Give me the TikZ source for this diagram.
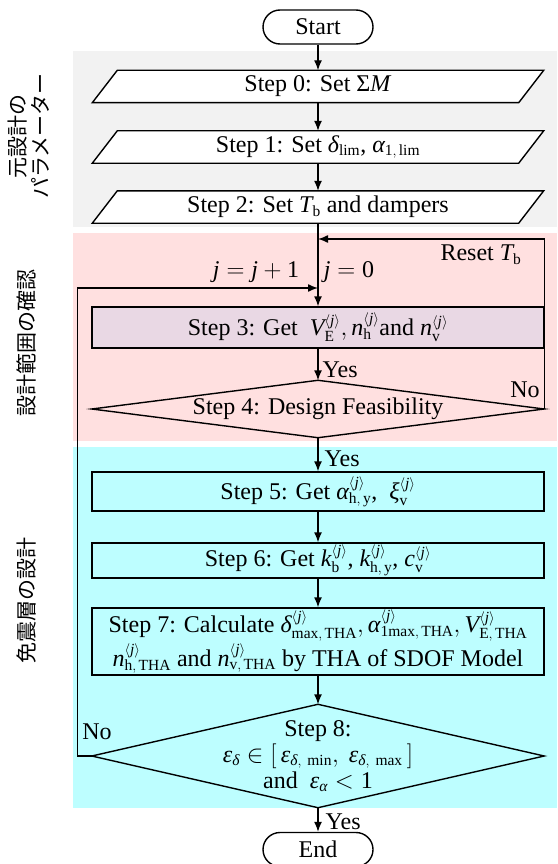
\documentclass[tikz,border=0pt]{standalone}
\usepackage{amstext}
\usepackage{fontspec}
\setmainfont{Liberation Serif}
\newfontfamily\tnr{Liberation Serif}
\newfontfamily\jpfont{Noto Sans CJK JP}
\usetikzlibrary{arrows.meta,shapes.misc,calc}
\DeclareMathSizes{24}{24}{15.5}{12}
\definecolor{bggray}{HTML}{F2F2F2}
\definecolor{bgpink}{HTML}{FFE0E0}
\definecolor{bgcyan}{HTML}{BDFEFF}
\definecolor{stepthree}{HTML}{E9D8E4}
\newcommand{\iv}[1]{\textit{#1}}
\newcommand{\jj}{^{\langle\textit{j}\rangle}}
\begin{document}
\begin{tikzpicture}[x=1pt,y=-1pt,
  font=\tnr\fontsize{24}{28}\selectfont,
  line width=1.4pt,
  >={Latex[length=10pt,width=8pt]},
  term/.style={rounded rectangle, draw, minimum width=110pt, minimum height=34pt, inner sep=0pt},
  parabox/.style={minimum width=425pt, minimum height=31pt, inner sep=0pt},
  stepbox/.style={draw, minimum width=452pt, inner sep=0pt, align=center},
  decbox/.style={minimum width=451pt, inner sep=0pt, align=center},
  lbl/.style={inner sep=0pt},
  jplbl/.style={rotate=90, inner sep=0pt, align=center, font=\jpfont\fontsize{21}{23}\selectfont}]
\useasboundingbox (0,0) rectangle (557,864);
% background bands
\fill[bggray] (73,51) rectangle (557,227);
\fill[bgpink] (73,233) rectangle (557,441);
\fill[bgcyan] (73,447) rectangle (557,808);
% side labels
\node[jplbl] (g1) at (28.5,136) {元設計の\\パラメーター};
\node[jplbl] (g2) at (26,343) {設計範囲の確認};
\node[jplbl] (g3) at (26,600) {免震層の設計};
% nodes
\node[term] (start) at (318,27) {Start};
\node[parabox] (s0) at (318,86.5) {};
\node[parabox] (s1) at (318,147) {};
\node[parabox] (s2) at (318,207) {};
\foreach \n in {s0,s1,s2}{
  \draw[fill=white] ([xshift=-12.5pt]\n.south west) -- ([xshift=-12.5pt]\n.south east)
     -- ([xshift=12.5pt]\n.north east) -- ([xshift=12.5pt]\n.north west) -- cycle;
}
\node[parabox] (t0) at (s0) {Step 0: Set Σ\textit{M}};
\node[parabox] (t1) at (s1) {Step 1: Set $\iv{δ}_{\mathrm{lim}}$, $\iv{α}_{\mathrm{1,\,lim}}$};
\node[parabox] (t2) at (s2) {Step 2: Set $\iv{T}_{\mathrm{b}}$ and dampers};
\node[stepbox, fill=stepthree, minimum height=41pt] (s3) at (318,327.5)
  {Step 3: Get \ $\iv{V}\jj_{\mathrm{E}}, \iv{n}\jj_{\mathrm{h}}$and $\iv{n}\jj_{\mathrm{v}}$};
\node[decbox, minimum height=56pt] (s4) at (318,409) {Step 4: Design Feasibility};
\draw (s4.west) -- (s4.north) -- (s4.east) -- (s4.south) -- cycle;
\node[stepbox, minimum height=39pt] (s5) at (318,491.5)
  {Step 5: Get $\iv{α}\jj_{\mathrm{h,\,y}}$, \ $\iv{ξ}\jj_{\mathrm{v}}$};
\node[stepbox, minimum height=35pt] (s6) at (318,560.5)
  {Step 6: Get $\iv{k}\jj_{\mathrm{b}}$, $\iv{k}\jj_{\mathrm{h,\,y}}$, $\iv{c}\jj_{\mathrm{v}}$};
\node[stepbox, minimum height=67pt] (s7) at (318,641.5)
  {Step 7: Calculate $\iv{δ}\jj_{\mathrm{max,\,THA}}, \iv{α}\jj_{\mathrm{1max,\,THA}}, \iv{V}\jj_{\mathrm{E,\,THA}}$\\[1pt]
   $\iv{n}\jj_{\mathrm{h,\,THA}}$ and $\iv{n}\jj_{\mathrm{v,\,THA}}$ by THA of SDOF Model};
\node[decbox, minimum height=102pt] (s8) at (318,756)
  {Step 8:\\[-2pt] $\iv{ε}_{\iv{δ}}\in\big[\,\iv{ε}_{\iv{δ},\ \mathrm{min}},\ \iv{ε}_{\iv{δ},\ \mathrm{max}}\,\big]$\\[-2pt] and \ $\iv{ε}_{\iv{α}}<\mathrm{1}$};
\draw (s8.west) -- (s8.north) -- (s8.east) -- (s8.south) -- cycle;
\node[term] (end) at (318,849.5) {End};
% merge points
\coordinate (m1) at (318,239);
\coordinate (m2) at (318,288);
\coordinate (lx) at (77.5,756);
% connectors
\draw[->] (start.south) -- (s0.north);
\draw[->] (s0.south) -- (s1.north);
\draw[->] (s1.south) -- (s2.north);
\draw[->] (s2.south) -- (s3.north);
\draw[->] (s3.south) -- (s4.north);
\draw[->] (s4.east) -- (s4.east |- m1) -- (m1);
\draw[->] (s4.south) -- (s5.north);
\draw[->] (s5.south) -- (s6.north);
\draw[->] (s6.south) -- (s7.north);
\draw[->] (s7.south) -- (s8.north);
\draw[->] (s8.west) -- (lx) |- (m2);
\draw[->] (s8.south) -- (end.north);
% labels
\node[lbl, anchor=west] (y1) at (322,370) {Yes};
\node[lbl, anchor=west] (y2) at (324,459) {Yes};
\node[lbl, anchor=west] (y3) at (325,822) {Yes};
\node[lbl] (no1) at (525,390) {No};
\node[lbl] (no2) at (97,732) {No};
\node[lbl] (rs) at (481,255) {Reset $\iv{T}_{\mathrm{b}}$};
\node[lbl] (jinc) at (256,272) {$\iv{j}=\iv{j}\mathbin{+}\mathrm{1}$};
\node[lbl] (j0) at (349,272) {$\iv{j}=\mathrm{0}$};
\end{tikzpicture}
\end{document}
